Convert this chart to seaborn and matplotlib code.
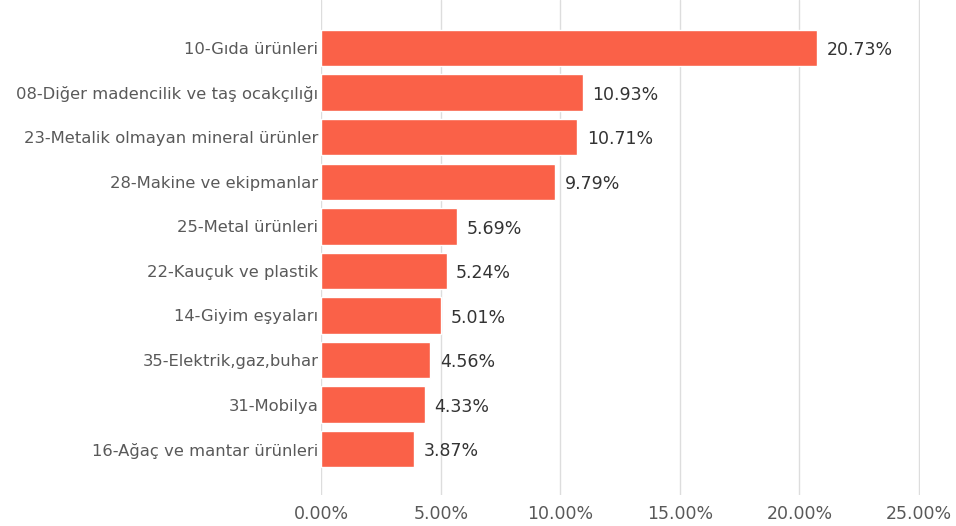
import matplotlib.pyplot as plt
import seaborn as sns
import pandas as pd
from matplotlib.ticker import FuncFormatter

categories = ["10-Gıda ürünleri", "08-Diğer madencilik ve taş ocakçılığı",
              "23-Metalik olmayan mineral ürünler", "28-Makine ve ekipmanlar",
              "25-Metal ürünleri", "22-Kauçuk ve plastik", "14-Giyim eşyaları",
              "35-Elektrik,gaz,buhar", "31-Mobilya", "16-Ağaç ve mantar ürünleri"]
shares = [20.73, 10.93, 10.71, 9.79, 5.69, 5.24, 5.01, 4.56, 4.33, 3.87]
ticks = [0, 5, 10, 15, 20, 25]

sns.set_style("white")
plt.rcParams['font.family'] = ['DejaVu Sans']

df = pd.DataFrame({'sector': categories, 'share': shares})

fig = plt.figure(figsize=(9.56, 5.26), dpi=100)
ax = fig.add_axes([0.336, 0.059, 0.626, 0.941])
sns.barplot(data=df, x='share', y='sector', color='#FA6148', saturation=1,
            width=0.82, ax=ax)

for i, v in enumerate(shares):
    ax.text(v + 0.4, i + 0.05, f"{v:.2f}%", va='center', ha='left', fontsize=12.5, color='#333333')

ax.set_xlim(0, 25.03)
ax.set_ylim(10.03, -1.08)
ax.set_xticks(ticks)
ax.xaxis.set_major_formatter(FuncFormatter(lambda x, p: f"{x:.2f}%"))
ax.grid(axis='x', color='#DDDDDD', linewidth=1)
ax.set_axisbelow(True)
for s in ax.spines.values():
    s.set_visible(False)
ax.set_xlabel('')
ax.set_ylabel('')
ax.tick_params(axis='x', colors='#595959', labelsize=12.5, pad=7, length=0)
ax.tick_params(axis='y', colors='#595959', labelsize=11.8, pad=2, length=0)

fig.savefig('out.png', dpi=100)
